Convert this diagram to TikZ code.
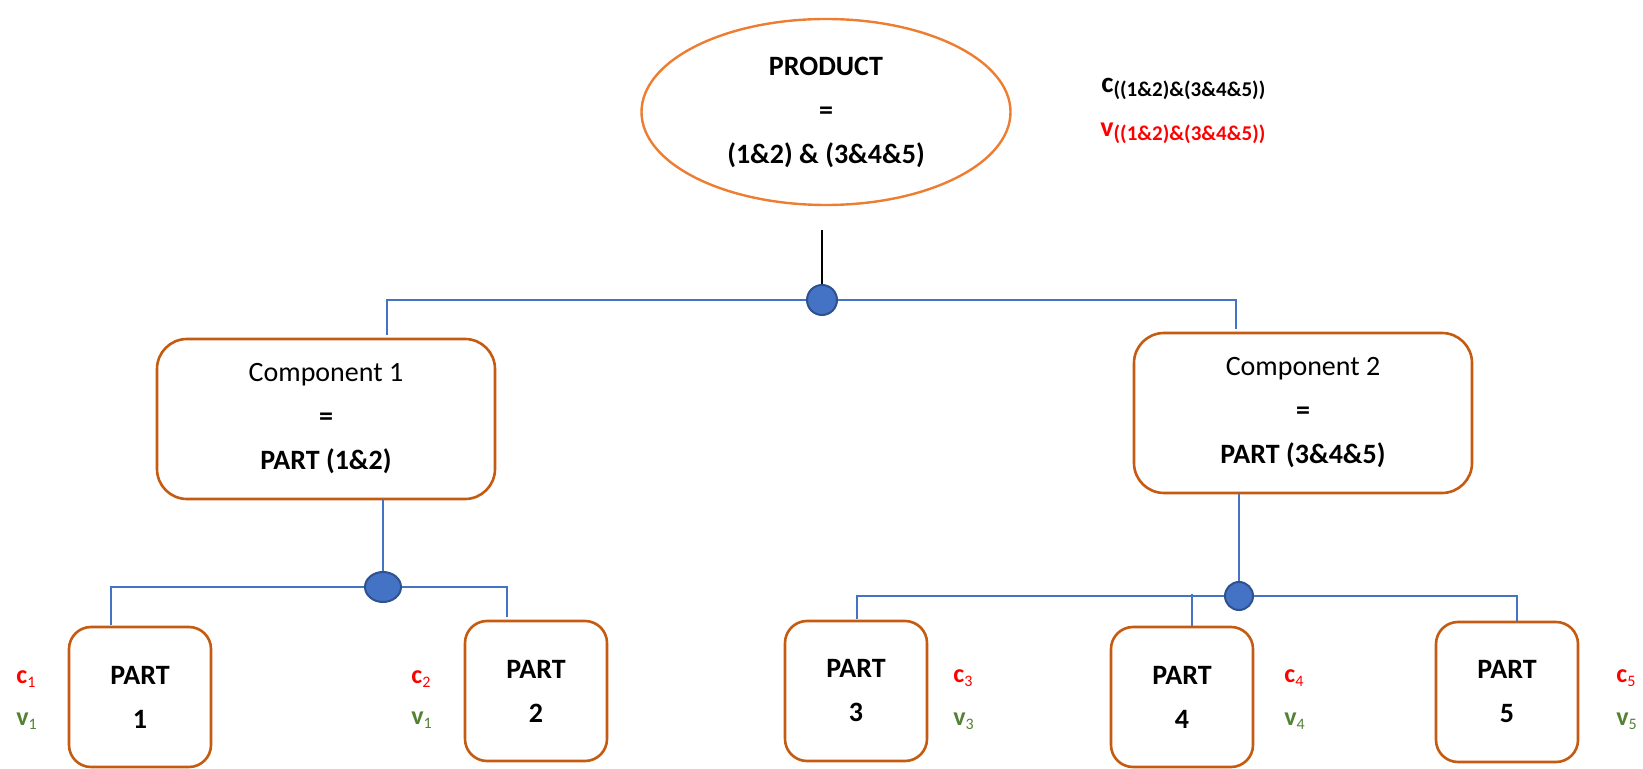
\documentclass[tikz,border=0pt]{standalone}
\usepackage{fontspec}
\setmainfont{Carlito}
\usetikzlibrary{shapes.geometric}
\definecolor{boxorange}{HTML}{C55A11}
\definecolor{ovalorange}{HTML}{ED7D31}
\definecolor{wireblue}{HTML}{4472C4}
\definecolor{dotedge}{HTML}{2F528F}
\definecolor{vgreen}{HTML}{548235}
\newcommand{\cvlab}[4][13]{{\fontsize{#1}{#1}\selectfont\bfseries #3}\raisebox{-2pt}{\fontsize{#2}{#2}\selectfont #4}}

\begin{document}
\begin{tikzpicture}[x=0.5pt,y=-0.5pt]
\tikzset{oval/.style={draw=ovalorange, line width=1.2pt, ellipse, minimum width=184.5pt, minimum height=93pt, inner sep=0pt, align=center, font=\fontsize{14}{22}\selectfont\bfseries},
compbox/.style={draw=boxorange, line width=1.3pt, rounded corners=15pt, minimum width=169pt, minimum height=80pt, align=center, font=\fontsize{14}{22}\selectfont},
partbox/.style={draw=boxorange, line width=1.3pt, rounded corners=11pt, minimum width=71pt, minimum height=70pt, align=center, font=\fontsize{14}{22}\selectfont\bfseries},
hubdot/.style={draw=dotedge, fill=wireblue, line width=1pt, ellipse, inner sep=0pt},
wire/.style={draw=wireblue, line width=0.7pt},
lab/.style={anchor=base west, inner sep=0pt}}
\useasboundingbox (0,0) rectangle (1643,769);
\node[oval] (product) at (826,112) {PRODUCT\\=\\(1\&2) \& (3\&4\&5)};
\node[compbox] (comp1) at (326,419) {Component 1\\\textbf{=}\\\textbf{PART (1\&2)}};
\node[compbox] (comp2) at (1303,413) {Component 2\\\textbf{=}\\\textbf{PART (3\&4\&5)}};
\node[partbox] (part1) at (140,697) {PART\\1};
\node[partbox] (part2) at (536,691) {PART\\2};
\node[partbox] (part3) at (856,691) {PART\\3};
\node[partbox] (part4) at (1182,697) {PART\\4};
\node[partbox] (part5) at (1507,692) {PART\\5};
\node[hubdot, minimum width=15pt, minimum height=15pt] (hub) at (822,300) {};
\node[hubdot, minimum width=18pt, minimum height=15pt] (hub1) at (383,587) {};
\node[hubdot, minimum width=14pt, minimum height=14pt] (hub2) at (1239,596) {};
\coordinate (stem) at (822,230);
\coordinate (k1) at (387,335);
\coordinate (k2) at (1236,329);
\coordinate (f1) at (111,625);
\coordinate (f2) at (507,617);
\coordinate (f3) at (857,619);
\coordinate (g4) at (1192,594);
\coordinate (f4) at (1192,626);
\coordinate (f5) at (1517,621);
\draw[line width=0.7pt] (stem) -- (hub);
\draw[wire] (hub) -| (k1);
\draw[wire] (hub) -| (k2);
\draw[wire] (hub1) -- (hub1 |- comp1.south);
\draw[wire] (hub2) -- (hub2 |- comp2.south);
\draw[wire] (hub1) -| (f1);
\draw[wire] (hub1) -| (f2);
\draw[wire] (hub2) -| (f3);
\draw[wire] (hub2) -| (f5);
\draw[wire] (g4) -- (f4);
\node[lab] (ctop) at (1101,93) {\cvlab[14.5]{10.5}{c}{\bfseries ((1\&2)\&(3\&4\&5))}};
\node[lab, red] (vtop) at (1100,137) {\cvlab[14]{10.5}{v}{\bfseries ((1\&2)\&(3\&4\&5))}};
\node[lab, red] (c1lab) at (16,683) {\cvlab{8}{c}{1}};
\node[lab, vgreen] (v1lab) at (16,725) {\cvlab{8}{v}{1}};
\node[lab, red] (c2lab) at (411,683) {\cvlab{8}{c}{2}};
\node[lab, vgreen] (v2lab) at (411,724) {\cvlab{8}{v}{1}};
\node[lab, red] (c3lab) at (953,682) {\cvlab{8}{c}{3}};
\node[lab, vgreen] (v3lab) at (953,725) {\cvlab{8}{v}{3}};
\node[lab, red] (c4lab) at (1284,682) {\cvlab{8}{c}{4}};
\node[lab, vgreen] (v4lab) at (1284,725) {\cvlab{8}{v}{4}};
\node[lab, red] (c5lab) at (1616,682) {\cvlab{8}{c}{5}};
\node[lab, vgreen] (v5lab) at (1616,725) {\cvlab{8}{v}{5}};
\end{tikzpicture}
\end{document}
